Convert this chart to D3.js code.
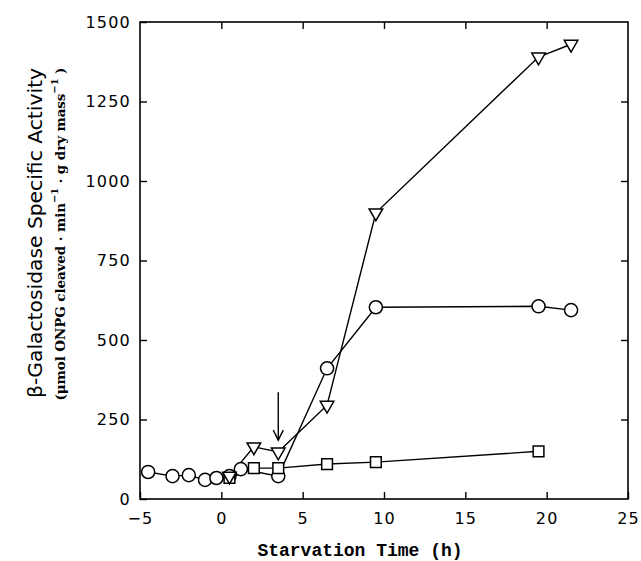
<!DOCTYPE html>
<html>
<head>
<meta charset="utf-8">
<script src="https://cdn.jsdelivr.net/npm/d3@7"></script>
<style>
  body { margin: 0; background: #fff; }
</style>
</head>
<body>
<div id="chart"></div>
<script>
// values
const circleX = [-4.5, -3, -2, -1, -0.3, 0.5, 1.2, 3.5, 6.5, 9.5, 19.5, 21.5];
const circleY = [85, 72, 75, 60, 66, 72, 94, 72, 411, 603, 606, 594];
const triX = [0.5, 2, 3.5, 6.5, 9.5, 19.5, 21.5];
const triY = [72, 164, 148, 295, 900, 1390, 1430];
const sqX = [0.5, 2, 3.5, 6.5, 9.5, 19.5];
const sqY = [66, 97, 97, 110, 116, 150];
const arrowX = 3.5;
const arrowFrom = 336;
const arrowTo = 185;
const xTicks = [-5, 0, 5, 10, 15, 20, 25];
const yTicks = [0, 250, 500, 750, 1000, 1250, 1500];

const width = 641;
const height = 561;

const svg = d3.select("#chart")
  .append("svg")
  .attr("width", width)
  .attr("height", height);

const x = d3.scaleLinear().domain([-5, 25]).range([140, 628]);
const y = d3.scaleLinear().domain([0, 1500]).range([499, 22]);

const tickFont = "'DejaVu Sans', 'Liberation Sans', sans-serif";

// frame
svg.append("rect")
  .attr("x", x(-5)).attr("y", y(1500))
  .attr("width", x(25) - x(-5)).attr("height", y(0) - y(1500))
  .attr("fill", "none").attr("stroke", "#000").attr("stroke-width", 1.6);

// axes with inward ticks
svg.append("g")
  .attr("transform", `translate(0,${y(0)})`)
  .call(d3.axisBottom(x).tickValues(xTicks).tickSizeInner(-7).tickSizeOuter(0).tickPadding(14));
svg.append("g")
  .attr("transform", `translate(${x(-5)},0)`)
  .call(d3.axisLeft(y).tickValues(yTicks).tickFormat(d3.format("d")).tickSizeInner(-7).tickSizeOuter(0).tickPadding(9));
svg.append("g")
  .attr("transform", `translate(0,${y(1500)})`)
  .call(d3.axisTop(x).tickValues(xTicks.slice(1, -1)).tickSizeInner(-7).tickSizeOuter(0).tickFormat(""));
svg.append("g")
  .attr("transform", `translate(${x(25)},0)`)
  .call(d3.axisRight(y).tickValues(yTicks.slice(1, -1)).tickSizeInner(-7).tickSizeOuter(0).tickFormat(""));

svg.selectAll(".domain").remove();
svg.selectAll(".tick line").attr("stroke", "#000").attr("stroke-width", 1.4);
svg.selectAll(".tick text")
  .attr("fill", "#000")
  .style("font-family", tickFont)
  .style("font-size", "16px")
  .style("letter-spacing", "1.2px");

// axis titles
svg.append("text")
  .attr("x", 360).attr("y", 556)
  .attr("text-anchor", "middle")
  .style("font-family", "'Liberation Mono', 'Courier New', monospace")
  .style("font-weight", "bold")
  .style("font-size", "18px")
  .text("Starvation Time (h)");

svg.append("text")
  .attr("transform", "translate(42,233) rotate(-90)")
  .attr("text-anchor", "middle")
  .attr("textLength", 330)
  .attr("lengthAdjust", "spacingAndGlyphs")
  .style("font-family", "'DejaVu Sans', sans-serif")
  .style("font-size", "19px")
  .text("β-Galactosidase Specific Activity");

const sub = svg.append("text")
  .attr("transform", "translate(65,234) rotate(-90)")
  .attr("text-anchor", "middle")
  .attr("textLength", 333)
  .attr("lengthAdjust", "spacing")
  .style("font-family", "'DejaVu Serif', 'Liberation Serif', serif")
  .style("font-weight", "bold")
  .style("font-size", "13.5px");
sub.append("tspan").text("(μmol ONPG cleaved · min");
sub.append("tspan").attr("dy", -7).style("font-size", "10px").text("−1");
sub.append("tspan").attr("dy", 7).text(" · g dry mass");
sub.append("tspan").attr("dy", -7).style("font-size", "10px").text("−1");
sub.append("tspan").attr("dy", 7).text(" )");

// series lines
const line = d3.line().x(d => x(d[0])).y(d => y(d[1]));
const series = [
  { xs: circleX, ys: circleY, type: d3.symbolCircle, size: 135, rot: 0 },
  { xs: sqX, ys: sqY, type: d3.symbolSquare, size: 115, rot: 0 },
  { xs: triX, ys: triY, type: d3.symbolTriangle, size: 80, rot: 180 }
];

series.forEach(s => {
  const pts = s.xs.map((v, i) => [v, s.ys[i]]);
  svg.append("path")
    .attr("d", line(pts))
    .attr("fill", "none")
    .attr("stroke", "#000")
    .attr("stroke-width", 1.4);
});

series.forEach(s => {
  const pts = s.xs.map((v, i) => [v, s.ys[i]]);
  svg.append("g")
    .selectAll("path")
    .data(pts)
    .join("path")
    .attr("d", d3.symbol().type(s.type).size(s.size))
    .attr("transform", d => `translate(${x(d[0])},${y(d[1])}) rotate(${s.rot})`)
    .attr("fill", "#fff")
    .attr("stroke", "#000")
    .attr("stroke-width", 1.5);
});

// arrow marking the shift
svg.append("line")
  .attr("x1", x(arrowX)).attr("x2", x(arrowX))
  .attr("y1", y(arrowFrom)).attr("y2", y(arrowTo))
  .attr("stroke", "#000").attr("stroke-width", 1.4);
svg.append("path")
  .attr("d", `M${x(arrowX) - 5},${y(arrowTo) - 10} L${x(arrowX)},${y(arrowTo)} L${x(arrowX) + 5},${y(arrowTo) - 10}`)
  .attr("fill", "none").attr("stroke", "#000").attr("stroke-width", 1.4);
</script>
</body>
</html>
